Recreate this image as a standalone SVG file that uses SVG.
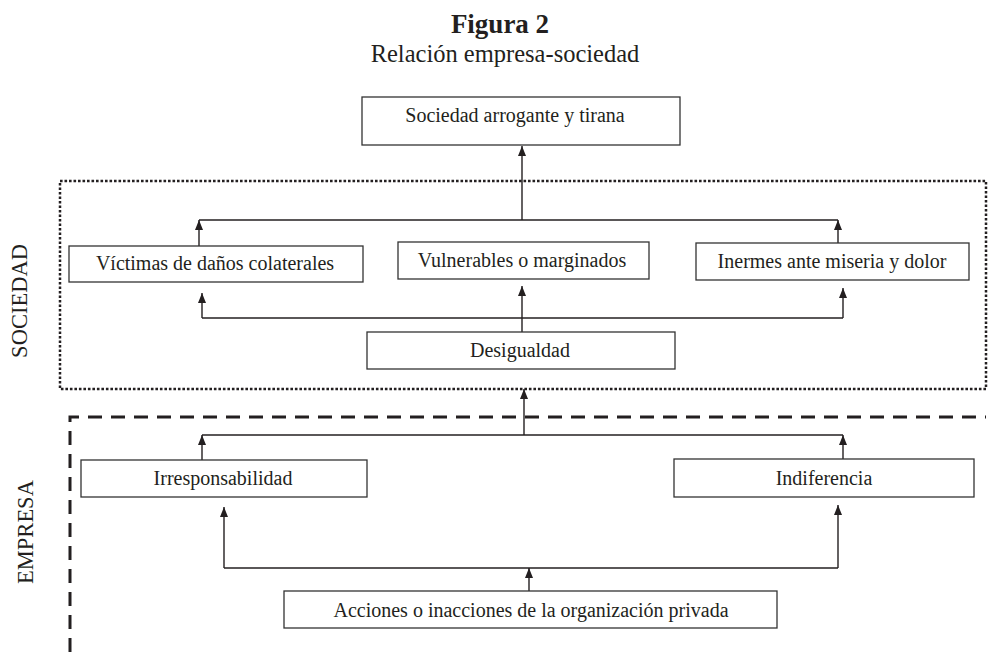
<svg xmlns="http://www.w3.org/2000/svg" width="989" height="652" viewBox="0 0 989 652">
<style>
.box{fill:#fff;stroke:#333;stroke-width:1.3}
.t{font-family:"Liberation Serif","Times New Roman",serif;font-size:20px;fill:#231f20;text-anchor:middle}
.side{font-family:"Liberation Serif","Times New Roman",serif;font-size:22.5px;fill:#231f20;text-anchor:middle}
.c{fill:none;stroke:#231f20;stroke-width:1.4}
.a{fill:none;stroke:#231f20;stroke-width:1.4;marker-end:url(#ah)}
</style>
<defs>
<marker id="ah" markerUnits="userSpaceOnUse" viewBox="0 0 10 8" refX="10" refY="4" markerWidth="10" markerHeight="8" orient="auto">
<path d="M0,0 L10,4 L0,8 z" fill="#231f20"/>
</marker>
</defs>
<rect width="989" height="652" fill="#fff"/>
<g id="title">
<text x="500" y="33" style="font-family:'Liberation Serif','Times New Roman',serif;font-size:27px;font-weight:bold;fill:#231f20;text-anchor:middle">Figura 2</text>
<text x="505" y="62" style="font-family:'Liberation Serif','Times New Roman',serif;font-size:24.5px;fill:#231f20;text-anchor:middle">Relación empresa-sociedad</text>
</g>
<g id="regions">
<rect x="60" y="181" width="926" height="208" fill="none" stroke="#231f20" stroke-width="2.5" stroke-dasharray="2.6 1.9"/>
<path d="M70,652 L70,417 L986,417" fill="none" stroke="#231f20" stroke-width="3" stroke-dasharray="14 9"/>
<text class="side" transform="translate(27,301) rotate(-90)">SOCIEDAD</text>
<text class="side" transform="translate(33,532) rotate(-90)">EMPRESA</text>
</g>
<g id="connectors">
<path class="c" d="M199,220 L838,220"/>
<path class="a" d="M522,220 L522,146"/>
<path class="a" d="M199,246 L199,220"/>
<path class="a" d="M838,243 L838,220"/>
<path class="c" d="M202,318 L843,318"/>
<path class="a" d="M202,318 L202,293"/>
<path class="a" d="M843,318 L843,288"/>
<path class="a" d="M522,332 L522,286"/>
<path class="c" d="M202,435 L843,435"/>
<path class="a" d="M524,435 L524,389"/>
<path class="a" d="M202,460 L202,435"/>
<path class="a" d="M843,459 L843,435"/>
<path class="c" d="M224,568 L838,568"/>
<path class="a" d="M224,568 L224,507"/>
<path class="a" d="M838,568 L838,505"/>
<path class="a" d="M529,591 L529,568"/>
</g>
<g id="n-sociedad-arrogante">
<rect class="box" x="362" y="97" width="318" height="48"/>
<text class="t" x="515" y="122">Sociedad arrogante y tirana</text>
</g>
<g id="n-victimas">
<rect class="box" x="69" y="246" width="294" height="36"/>
<text class="t" x="215" y="270">Víctimas de daños colaterales</text>
</g>
<g id="n-vulnerables">
<rect class="box" x="398" y="242" width="251" height="37"/>
<text class="t" x="522" y="267">Vulnerables o marginados</text>
</g>
<g id="n-inermes">
<rect class="box" x="696" y="243" width="273" height="37"/>
<text class="t" x="832" y="268">Inermes ante miseria y dolor</text>
</g>
<g id="n-desigualdad">
<rect class="box" x="367" y="332" width="308" height="37"/>
<text class="t" x="520" y="357">Desigualdad</text>
</g>
<g id="n-irresponsabilidad">
<rect class="box" x="81" y="460" width="286" height="37"/>
<text class="t" x="223" y="485">Irresponsabilidad</text>
</g>
<g id="n-indiferencia">
<rect class="box" x="674" y="459" width="300" height="38"/>
<text class="t" x="824" y="485">Indiferencia</text>
</g>
<g id="n-acciones">
<rect class="box" x="284" y="591" width="493" height="37"/>
<text class="t" x="531" y="617">Acciones o inacciones de la organización privada</text>
</g>
</svg>
